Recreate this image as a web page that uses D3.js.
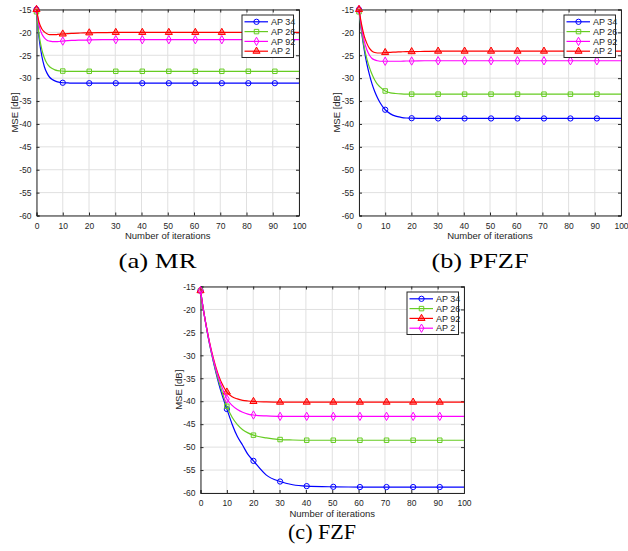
<!DOCTYPE html>
<html>
<head>
<meta charset="utf-8">
<script src="https://cdn.jsdelivr.net/npm/d3@7"></script>
<style>
  body { margin: 0; background: #fff; }
  text { font-family: "Liberation Sans", Arial, sans-serif; }
</style>
</head>
<body>
<script>
// sample points along the curves (markers sit on a subset of them)
var iters = [0, 1, 2, 3, 4, 5, 6, 7, 8, 10, 12, 14, 16, 18, 20.1, 25, 30.2, 35, 40.3, 50.4, 60.5, 70.6, 80.7, 90.8, 100];
var markerIters = [0, 10, 20.1, 30.2, 40.3, 50.4, 60.5, 70.6, 80.7, 90.8];

var xTickValues = [0, 10, 20, 30, 40, 50, 60, 70, 80, 90, 100];
var yTickValues = [-60, -55, -50, -45, -40, -35, -30, -25, -20, -15];

// (a) MR
var mrAP34 = [-15, -21.3, -25.1, -27.5, -28.9, -29.8, -30.3, -30.6, -30.8, -31.0, -31.05, -31.1, -31.1, -31.1, -31.1, -31.1, -31.1, -31.1, -31.1, -31.1, -31.1, -31.1, -31.1, -31.1, -31.1];
var mrAP26 = [-15.5, -20.6, -23.7, -25.6, -26.8, -27.5, -27.9, -28.2, -28.35, -28.45, -28.5, -28.5, -28.5, -28.5, -28.5, -28.5, -28.5, -28.5, -28.5, -28.5, -28.5, -28.5, -28.5, -28.5, -28.5];
var mrAP92 = [-15, -18.5, -20.3, -21.2, -21.7, -21.9, -22.0, -22.0, -22.0, -21.9, -21.8, -21.75, -21.7, -21.7, -21.65, -21.6, -21.6, -21.6, -21.6, -21.6, -21.6, -21.6, -21.6, -21.6, -21.6];
var mrAP2 = [-15, -17.8, -19.2, -19.9, -20.3, -20.5, -20.5, -20.5, -20.45, -20.35, -20.25, -20.2, -20.15, -20.1, -20.1, -20.05, -20.0, -20.0, -20.0, -20.0, -20.0, -20.0, -20.0, -20.0, -20.0];

// (b) PFZF
var pfzfAP34 = [-15, -20.0, -23.8, -26.9, -29.3, -31.3, -32.9, -34.2, -35.3, -36.9, -37.8, -38.3, -38.55, -38.7, -38.75, -38.8, -38.8, -38.8, -38.8, -38.8, -38.8, -38.8, -38.8, -38.8, -38.8];
var pfzfAP26 = [-15.5, -19.8, -23.2, -25.8, -27.7, -29.2, -30.4, -31.3, -31.9, -32.8, -33.2, -33.35, -33.45, -33.5, -33.5, -33.5, -33.5, -33.5, -33.5, -33.5, -33.5, -33.5, -33.5, -33.5, -33.5];
var pfzfAP92 = [-15, -19.0, -21.9, -23.8, -25.0, -25.7, -26.0, -26.2, -26.3, -26.3, -26.3, -26.3, -26.3, -26.25, -26.25, -26.2, -26.2, -26.2, -26.2, -26.2, -26.2, -26.2, -26.2, -26.2, -26.2];
var pfzfAP2 = [-15, -18.3, -20.8, -22.4, -23.5, -24.1, -24.4, -24.5, -24.5, -24.4, -24.35, -24.3, -24.25, -24.2, -24.2, -24.15, -24.1, -24.1, -24.1, -24.1, -24.1, -24.1, -24.1, -24.1, -24.1];

// (c) FZF
var fzfAP34 = [-15.9, -19.7, -23.1, -26.3, -29.1, -31.7, -34.1, -36.3, -38.3, -41.7, -45.0, -47.7, -49.6, -51.6, -53.0, -56.1, -57.5, -58.2, -58.5, -58.65, -58.7, -58.7, -58.7, -58.7, -58.7];
var fzfAP26 = [-15.9, -19.7, -23.1, -26.2, -29.0, -31.5, -33.8, -35.8, -37.6, -41.1, -43.5, -45.1, -46.2, -46.9, -47.4, -48.0, -48.35, -48.45, -48.5, -48.5, -48.5, -48.5, -48.5, -48.5, -48.5];
var fzfAP92 = [-15.9, -19.7, -23.0, -26.0, -28.6, -30.9, -32.9, -34.6, -36.0, -38.0, -39.0, -39.5, -39.8, -39.95, -40.05, -40.15, -40.2, -40.2, -40.2, -40.2, -40.2, -40.2, -40.2, -40.2, -40.2];
var fzfAP2 = [-15.9, -19.7, -23.1, -26.1, -28.8, -31.2, -33.3, -35.1, -36.7, -39.5, -40.9, -41.8, -42.4, -42.8, -43.0, -43.2, -43.3, -43.3, -43.3, -43.3, -43.3, -43.3, -43.3, -43.3, -43.3];

var BLUE = "#0000ff", GREEN = "#66cc22", MAGENTA = "#ff00ff", RED = "#ff0000";

var panels = [
  { caption: "(a) MR", capX: 157.5, capY: 268, capW: 78,
    left: 36.5, top: 9.5, width: 262.5, height: 206, ylabX: 15,
    series: [
      { label: "AP 34", color: BLUE, marker: "circle", values: mrAP34 },
      { label: "AP 26", color: GREEN, marker: "square", values: mrAP26 },
      { label: "AP 92", color: MAGENTA, marker: "diamond", values: mrAP92 },
      { label: "AP 2", color: RED, marker: "triangle", values: mrAP2 }
    ] },
  { caption: "(b) PFZF", capX: 480, capY: 268, capW: 97,
    left: 359, top: 9.5, width: 262, height: 206, ylabX: 337,
    series: [
      { label: "AP 34", color: BLUE, marker: "circle", values: pfzfAP34 },
      { label: "AP 26", color: GREEN, marker: "square", values: pfzfAP26 },
      { label: "AP 92", color: MAGENTA, marker: "diamond", values: pfzfAP92 },
      { label: "AP 2", color: RED, marker: "triangle", values: pfzfAP2 }
    ] },
  { caption: "(c) FZF", capX: 322, capY: 539, capW: 68,
    left: 200.5, top: 286.5, width: 263.5, height: 206.5, ylabX: 178.5,
    series: [
      { label: "AP 34", color: BLUE, marker: "circle", values: fzfAP34 },
      { label: "AP 26", color: GREEN, marker: "square", values: fzfAP26 },
      { label: "AP 92", color: RED, marker: "triangle", values: fzfAP92 },
      { label: "AP 2", color: MAGENTA, marker: "diamond", values: fzfAP2 }
    ] }
];

var svg = d3.select("body").append("svg")
  .attr("width", 628)
  .attr("height", 551);

function markerPath(type) {
  if (type == "circle") return d3.symbol(d3.symbolCircle, 22)();
  if (type == "square") return d3.symbol(d3.symbolSquare, 20)();
  if (type == "triangle") return d3.symbol(d3.symbolTriangle, 22)();
  return d3.symbol(d3.symbolDiamond, 20)();
}

panels.forEach(function(p) {
  var x = d3.scaleLinear().domain([0, 100]).range([0, p.width]);
  var y = d3.scaleLinear().domain([-60, -15]).range([p.height, 0]);

  var g = svg.append("g").attr("transform", "translate(" + p.left + "," + p.top + ")");

  // grid
  g.append("g").selectAll("line").data(xTickValues).enter().append("line")
    .attr("x1", function(d) { return x(d); }).attr("x2", function(d) { return x(d); })
    .attr("y1", 0).attr("y2", p.height)
    .style("stroke", "#e0e0e0").style("stroke-width", 1);
  g.append("g").selectAll("line").data(yTickValues).enter().append("line")
    .attr("y1", function(d) { return y(d); }).attr("y2", function(d) { return y(d); })
    .attr("x1", 0).attr("x2", p.width)
    .style("stroke", "#e0e0e0").style("stroke-width", 1);

  // axes (ticks inward, box on)
  var axB = g.append("g").attr("transform", "translate(0," + p.height + ")")
    .call(d3.axisBottom(x).tickValues(xTickValues).tickSize(-3).tickPadding(7));
  var axL = g.append("g")
    .call(d3.axisLeft(y).tickValues(yTickValues).tickSize(-3).tickPadding(5).tickFormat(function(d) { return d; }));
  var axT = g.append("g")
    .call(d3.axisTop(x).tickValues(xTickValues).tickSize(-3).tickFormat(""));
  var axR = g.append("g").attr("transform", "translate(" + p.width + ",0)")
    .call(d3.axisRight(y).tickValues(yTickValues).tickSize(-3).tickFormat(""));
  [axB, axL, axT, axR].forEach(function(a) {
    a.selectAll("path").style("stroke", "#262626").style("stroke-width", 1);
    a.selectAll("line").style("stroke", "#262626");
    a.selectAll("text").style("font-size", "8.5px").style("fill", "#262626")
      .style("font-family", "'Liberation Sans', Arial, sans-serif");
  });

  // curves
  var line = d3.line()
    .x(function(d, i) { return x(iters[i]); })
    .y(function(d) { return y(d); })
    .curve(d3.curveMonotoneX);

  p.series.forEach(function(s) {
    g.append("path").datum(s.values)
      .attr("d", line)
      .style("fill", "none")
      .style("stroke", s.color)
      .style("stroke-width", 1.2);

    g.append("g").selectAll("path")
      .data(markerIters)
      .enter().append("path")
      .attr("transform", function(m) {
        return "translate(" + x(m) + "," + y(s.values[iters.indexOf(m)]) + ")";
      })
      .attr("d", markerPath(s.marker))
      .style("fill", s.marker == "triangle" ? s.color : "none")
      .style("fill-opacity", 0.45)
      .style("stroke", s.color)
      .style("stroke-width", 1);
  });

  // legend
  var lx = p.width - 57, ly = 5.5;
  var leg = g.append("g").attr("transform", "translate(" + lx + "," + ly + ")");
  leg.append("rect").attr("width", 51.5).attr("height", 42.5)
    .style("fill", "#fff").style("stroke", "#262626").style("stroke-width", 1);
  p.series.forEach(function(s, i) {
    var ry = 6.8 + i * 9.8;
    leg.append("line").attr("x1", 2.5).attr("x2", 26).attr("y1", ry).attr("y2", ry)
      .style("stroke", s.color).style("stroke-width", 1.2);
    leg.append("path").attr("transform", "translate(14.5," + ry + ")")
      .attr("d", markerPath(s.marker))
      .style("fill", s.marker == "triangle" ? s.color : "none")
      .style("fill-opacity", 0.45)
      .style("stroke", s.color);
    leg.append("text").attr("x", 29).attr("y", ry + 3.2)
      .style("font-size", "9px").style("fill", "#262626")
      .text(s.label);
  });

  // axis titles
  g.append("text")
    .attr("x", p.width / 2).attr("y", p.height + 23.5)
    .attr("text-anchor", "middle")
    .style("font-size", "9.5px").style("fill", "#262626")
    .text("Number of iterations");
  svg.append("text")
    .attr("transform", "translate(" + p.ylabX + "," + (p.top + p.height / 2) + ") rotate(-90)")
    .attr("text-anchor", "middle")
    .attr("dy", "0.35em")
    .style("font-size", "9.5px").style("fill", "#262626")
    .text("MSE [dB]");

  // caption
  svg.append("text")
    .attr("x", p.capX - p.capW / 2).attr("y", p.capY)
    .attr("textLength", p.capW).attr("lengthAdjust", "spacingAndGlyphs")
    .style("font-family", "'Liberation Serif', 'Times New Roman', serif")
    .style("font-size", "22px").style("fill", "#000")
    .text(p.caption);
});
</script>
</body>
</html>
